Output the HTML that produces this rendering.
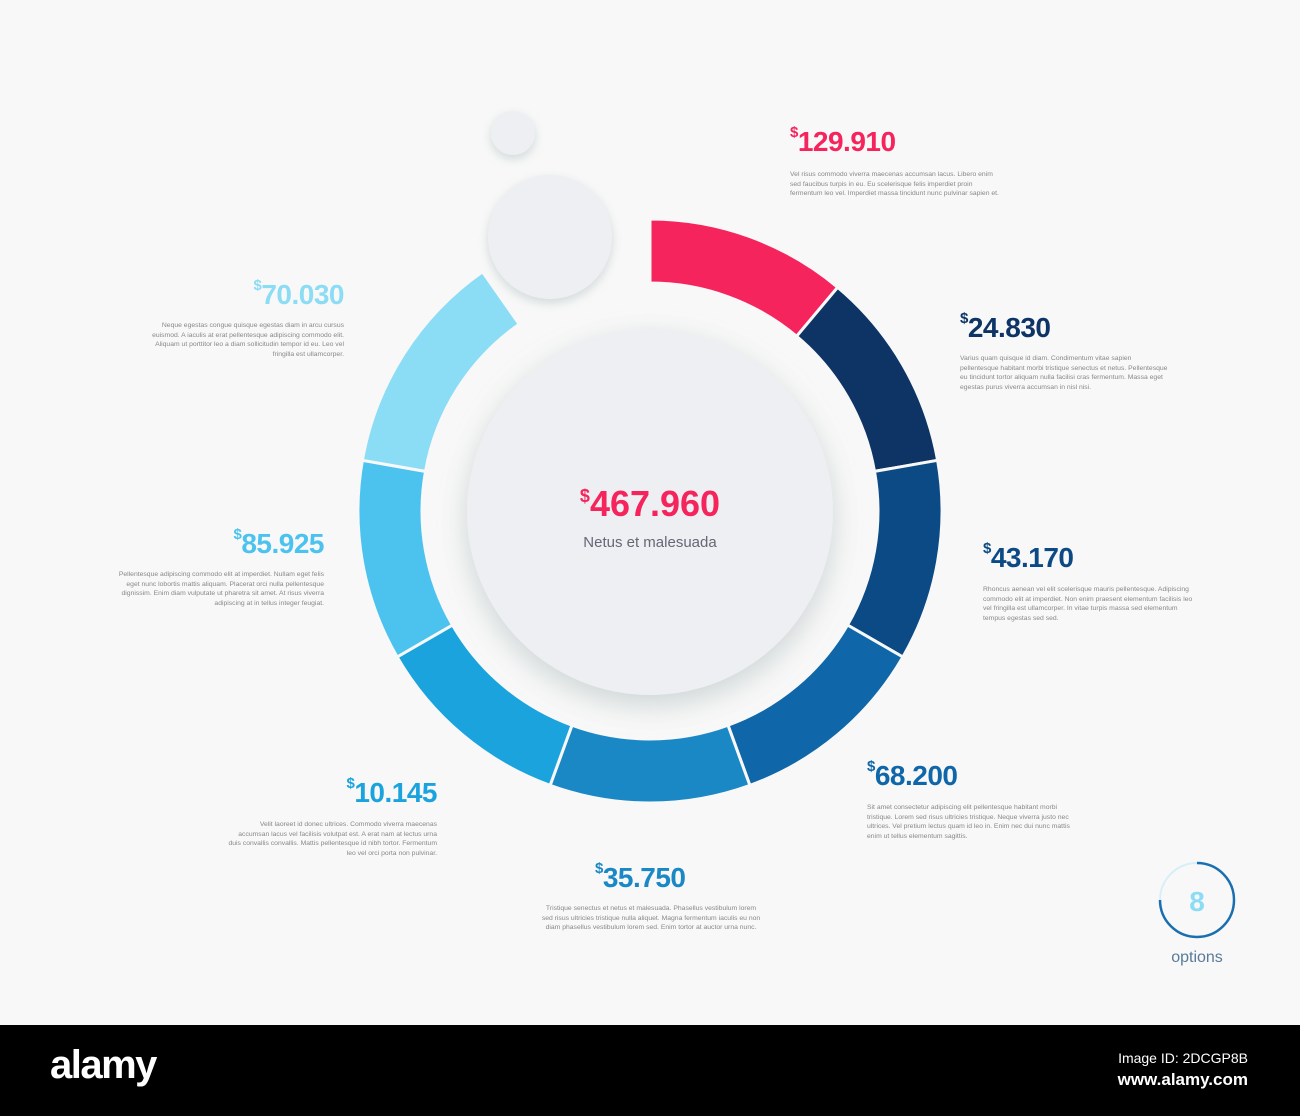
<!DOCTYPE html>
<html><head><meta charset="utf-8">
<style>
html,body{margin:0;padding:0}
body{width:1300px;height:1116px;background:#f8f8f8;font-family:"Liberation Sans",sans-serif;position:relative;overflow:hidden}
.v{position:absolute;font-weight:bold;font-size:28px;letter-spacing:-0.5px;white-space:nowrap}
.v sup{font-size:15px;vertical-align:top;position:relative;top:-2px}
.t{position:absolute;font-size:6.8px;line-height:9.6px;color:#888;width:210px}
.r{text-align:right}
.band{position:absolute;left:0;top:1025px;width:1300px;height:91px;background:#000}
</style></head><body>
<svg id="s" width="1300" height="1025" style="position:absolute;left:0;top:0">
<defs>
<filter id="sh" x="-30%" y="-30%" width="160%" height="160%"><feDropShadow dx="0" dy="10" stdDeviation="14" flood-color="#9aa" flood-opacity="0.45"/></filter>
<filter id="sh2" x="-50%" y="-50%" width="200%" height="200%"><feDropShadow dx="0" dy="4" stdDeviation="5" flood-color="#9aa" flood-opacity="0.4"/></filter>
</defs>
<g id="segs"></g>
<circle cx="650" cy="512" r="183" fill="#eeeff2" filter="url(#sh)"/>
<circle cx="550" cy="237" r="62" fill="#eeeff2" filter="url(#sh2)"/>
<circle cx="513" cy="133" r="22" fill="#eeeff2" filter="url(#sh2)"/>
<circle cx="1197" cy="900" r="37" fill="none" stroke="#d8eef8" stroke-width="2"/>
<path d="M1197 863 A37 37 0 1 1 1160 900" fill="none" stroke="#1a6fb0" stroke-width="2.5"/>
<text x="1197" y="911" font-family="Liberation Sans" font-size="28" font-weight="bold" fill="#8bdcf5" text-anchor="middle">8</text>
<text x="1197" y="962" font-family="Liberation Sans" font-size="16" fill="#5a7a9a" text-anchor="middle">options</text>
<text x="650" y="516" font-family="Liberation Sans" font-size="36" font-weight="bold" fill="#f5245c" text-anchor="middle"><tspan font-size="18" dy="-14">$</tspan><tspan dy="14">467.960</tspan></text>
<text x="650" y="547" font-family="Liberation Sans" font-size="15" fill="#667" text-anchor="middle">Netus et malesuada</text>
</svg>
<script>
var cx=650,cy=511,ro=292,ri=228;
var segs=[[0,40,"#f5245c"],[40,80,"#0e3466"],[80,120,"#0c4a85"],[120,160,"#0f66a8"],[160,200,"#1b88c6"],[200,240,"#1aa3dd"],[240,280,"#4cc3ef"],[280,325,"#8bdcf5"]];
function p(a,r){a=a*Math.PI/180;return (cx+r*Math.sin(a)).toFixed(1)+" "+(cy-r*Math.cos(a)).toFixed(1);}
var h="";
segs.forEach(function(s){var a=s[0],b=s[1];
h+='<path d="M'+p(a,ro)+' A'+ro+' '+ro+' 0 0 1 '+p(b,ro)+' L'+p(b,ri)+' A'+ri+' '+ri+' 0 0 0 '+p(a,ri)+'Z" fill="'+s[2]+'" stroke="#f8f8f8" stroke-width="3"/>';});
document.getElementById("segs").innerHTML=h;
</script>
<div class="v" style="left:790px;top:126px;color:#f5245c"><sup>$</sup>129.910</div>
<div class="t" style="left:790px;top:170px">Vel risus commodo viverra maecenas accumsan lacus. Libero enim sed faucibus turpis in eu. Eu scelerisque felis imperdiet proin fermentum leo vel. Imperdiet massa tincidunt nunc pulvinar sapien et.</div>
<div class="v" style="left:960px;top:312px;color:#0e3466"><sup>$</sup>24.830</div>
<div class="t" style="left:960px;top:354px">Varius quam quisque id diam. Condimentum vitae sapien pellentesque habitant morbi tristique senectus et netus. Pellentesque eu tincidunt tortor aliquam nulla facilisi cras fermentum. Massa eget egestas purus viverra accumsan in nisl nisi.</div>
<div class="v" style="left:983px;top:542px;color:#0c4a85"><sup>$</sup>43.170</div>
<div class="t" style="left:983px;top:585px">Rhoncus aenean vel elit scelerisque mauris pellentesque. Adipiscing commodo elit at imperdiet. Non enim praesent elementum facilisis leo vel fringilla est ullamcorper. In vitae turpis massa sed elementum tempus egestas sed sed.</div>
<div class="v" style="left:867px;top:760px;color:#0f66a8"><sup>$</sup>68.200</div>
<div class="t" style="left:867px;top:803px">Sit amet consectetur adipiscing elit pellentesque habitant morbi tristique. Lorem sed risus ultricies tristique. Neque viverra justo nec ultrices. Vel pretium lectus quam id leo in. Enim nec dui nunc mattis enim ut tellus elementum sagittis.</div>
<div class="v" style="left:595px;top:862px;color:#1b88c6"><sup>$</sup>35.750</div>
<div class="t" style="left:540px;top:904px;width:222px;text-align:center">Tristique senectus et netus et malesuada. Phasellus vestibulum lorem sed risus ultricies tristique nulla aliquet. Magna fermentum iaculis eu non diam phasellus vestibulum lorem sed. Enim tortor at auctor urna nunc.</div>
<div class="v r" style="right:863px;top:777px;color:#1aa3dd"><sup>$</sup>10.145</div>
<div class="t r" style="right:863px;top:820px">Velit laoreet id donec ultrices. Commodo viverra maecenas accumsan lacus vel facilisis volutpat est. A erat nam at lectus urna duis convallis convallis. Mattis pellentesque id nibh tortor. Fermentum leo vel orci porta non pulvinar.</div>
<div class="v r" style="right:976px;top:528px;color:#4cc3ef"><sup>$</sup>85.925</div>
<div class="t r" style="right:976px;top:570px">Pellentesque adipiscing commodo elit at imperdiet. Nullam eget felis eget nunc lobortis mattis aliquam. Placerat orci nulla pellentesque dignissim. Enim diam vulputate ut pharetra sit amet. At risus viverra adipiscing at in tellus integer feugiat.</div>
<div class="v r" style="right:956px;top:279px;color:#8bdcf5"><sup>$</sup>70.030</div>
<div class="t r" style="right:956px;top:321px">Neque egestas congue quisque egestas diam in arcu cursus euismod. A iaculis at erat pellentesque adipiscing commodo elit. Aliquam ut porttitor leo a diam sollicitudin tempor id eu. Leo vel fringilla est ullamcorper.</div>
<div class="band">
<div style="position:absolute;left:50px;top:18px;color:#fff;font-size:40px;font-weight:bold;letter-spacing:-1.5px">alamy</div>
<div style="position:absolute;right:52px;top:22px;color:#fff;font-size:14px;text-align:right;line-height:22px">Image ID: 2DCGP8B<br><b style="font-size:17px">www.alamy.com</b></div>
</div>
</body></html>
